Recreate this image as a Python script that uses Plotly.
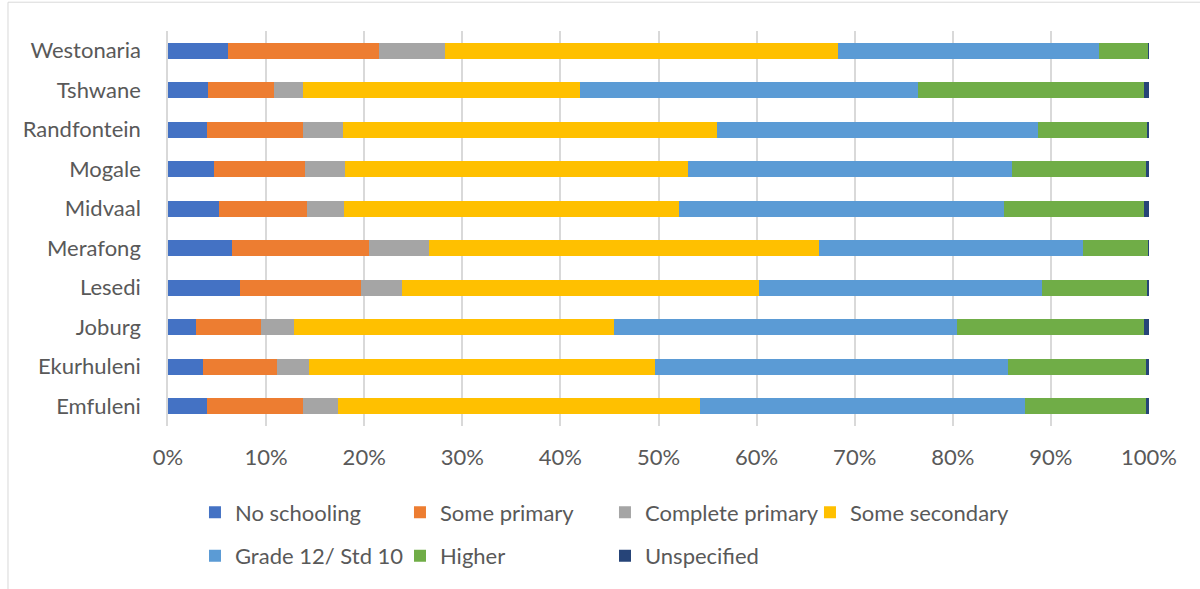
import plotly.graph_objects as go

# Municipalities, bottom to top
municipalities = ["Emfuleni", "Ekurhuleni", "Joburg", "Lesedi", "Merafong",
                  "Midvaal", "Mogale", "Randfontein", "Tshwane", "Westonaria"]

# Share of population (%) by highest level of education
no_schooling     = [3.98, 3.61, 2.86, 7.35, 6.53, 5.20, 4.69, 4.01, 4.11, 6.15]
some_primary     = [9.83, 7.48, 6.63, 12.28, 13.98, 8.98, 9.32, 9.70, 6.74, 15.31]
complete_primary = [3.47, 3.30, 3.40, 4.25, 6.12, 3.71, 4.05, 4.08, 2.86, 6.81]
some_secondary   = [36.97, 35.30, 32.59, 36.32, 39.77, 34.25, 34.90, 38.13, 28.33, 40.06]
grade_12         = [33.13, 35.96, 34.96, 28.92, 26.87, 33.10, 33.09, 32.72, 34.46, 26.53]
higher           = [12.31, 14.04, 19.05, 10.68, 6.63, 14.25, 13.68, 11.16, 22.99, 5.04]
unspecified      = [0.31, 0.31, 0.51, 0.20, 0.10, 0.51, 0.27, 0.20, 0.51, 0.10]

tick_vals = [0, 10, 20, 30, 40, 50, 60, 70, 80, 90, 100]
tick_text = [f"{v}%" for v in tick_vals]

series = [
    ("No schooling", no_schooling, "#4472C4", "legend"),
    ("Some primary", some_primary, "#ED7D31", "legend"),
    ("Complete primary", complete_primary, "#A5A5A5", "legend"),
    ("Some secondary", some_secondary, "#FFC000", "legend"),
    ("Grade 12/ Std 10", grade_12, "#5B9BD5", "legend2"),
    ("Higher", higher, "#70AD47", "legend2"),
    ("Unspecified", unspecified, "#264478", "legend2"),
]

FONT = "Lato, 'Open Sans', sans-serif"
TEXT_COLOR = "#595959"
FONT_SIZE = 22

fig = go.Figure()
for name, vals, color, leg in series:
    fig.add_trace(go.Bar(
        y=municipalities, x=vals, name=name, orientation="h",
        marker=dict(color=color, line=dict(width=0)),
        legend=leg,
    ))

legend_common = dict(
    orientation="h",
    x=0.0275, xanchor="left",
    yanchor="middle",
    entrywidth=160, entrywidthmode="pixels",
    font=dict(family=FONT, size=FONT_SIZE, color=TEXT_COLOR),
    bgcolor="rgba(0,0,0,0)",
    traceorder="normal",
)

fig.update_layout(
    width=1200, height=589,
    margin=dict(l=168, r=51, t=31, b=160),
    barmode="stack",
    bargap=0.6,
    plot_bgcolor="white",
    paper_bgcolor="white",
    font=dict(family=FONT, size=FONT_SIZE, color=TEXT_COLOR),
    legend=dict(y=-0.219, **legend_common),
    legend2=dict(y=-0.329, **legend_common),
    xaxis=dict(
        range=[0, 100], tickvals=tick_vals, ticktext=tick_text,
        showgrid=True, gridcolor="#D9D9D9", gridwidth=1.5,
        zeroline=False, showline=False,
        ticks="", ticklabelstandoff=16,
        tickfont=dict(family=FONT, size=FONT_SIZE, color=TEXT_COLOR),
    ),
    yaxis=dict(
        categoryorder="array", categoryarray=municipalities,
        range=[-0.5, 9.5],
        showline=True, linecolor="#D9D9D9", linewidth=1.5,
        showgrid=False, ticks="", ticklabelstandoff=21,
        tickfont=dict(family=FONT, size=FONT_SIZE, color=TEXT_COLOR),
    ),
    shapes=[dict(
        type="rect", xref="paper", yref="paper",
        x0=-0.1631, x1=1.07, y0=-0.45, y1=1.0729,
        line=dict(color="#D9D9D9", width=1), fillcolor="rgba(0,0,0,0)",
        layer="below",
    )],
)

fig.write_html("out.html")
